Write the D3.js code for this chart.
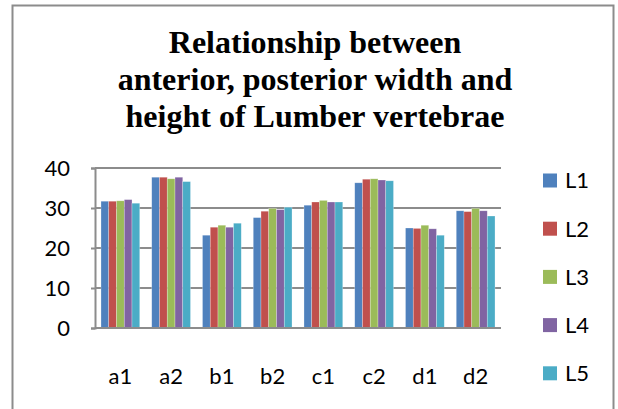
<!DOCTYPE html>
<html>
<head>
<meta charset="utf-8">
<script src="https://cdn.jsdelivr.net/npm/d3@7"></script>
<style>
  body { margin: 0; background: #fff; }
  svg { display: block; }
</style>
</head>
<body>
<svg id="chart"></svg>
<script>
const categories = ['a1', 'a2', 'b1', 'b2', 'c1', 'c2', 'd1', 'd2'];
const seriesNames = ['L1', 'L2', 'L3', 'L4', 'L5'];
const L1 = [31.7, 37.7, 23.2, 27.6, 30.7, 36.3, 25.0, 29.3];
const L2 = [31.7, 37.7, 25.2, 29.2, 31.5, 37.2, 24.9, 29.1];
const L3 = [31.8, 37.3, 25.7, 29.9, 31.9, 37.3, 25.7, 29.9];
const L4 = [32.1, 37.7, 25.2, 29.6, 31.5, 37.0, 24.8, 29.3];
const L5 = [31.2, 36.6, 26.2, 30.2, 31.5, 36.8, 23.2, 28.0];
const yTicks = [0, 10, 20, 30, 40];
const colors = ['#4f81bd', '#c0504d', '#9bbb59', '#8064a2', '#4bacc6'];
const titleLines = ['Relationship between', 'anterior, posterior width and', 'height of Lumber vertebrae'];

const values = [L1, L2, L3, L4, L5];
const width = 618;
const height = 409;
const plot = { left: 95, right: 501, top: 168, bottom: 328 };
const labelFont = 'Lato, "Open Sans", sans-serif';

const svg = d3.select('#chart')
    .attr('width', width)
    .attr('height', height);

// outer frame
svg.append('rect')
    .attr('x', 12.5)
    .attr('y', 5.5)
    .attr('width', 601)
    .attr('height', 420)
    .attr('fill', '#fff')
    .attr('stroke', '#8c8c8c')
    .attr('stroke-width', 2);

// title
svg.append('g')
    .selectAll('text')
    .data(titleLines)
    .enter()
    .append('text')
    .attr('x', 315)
    .attr('y', (d, i) => 53 + i * 37)
    .attr('text-anchor', 'middle')
    .style('font-family', '"Liberation Serif", "Times New Roman", serif')
    .style('font-weight', 'bold')
    .style('font-size', '32px')
    .text((d) => d);

const x0 = d3.scaleBand()
    .domain(categories)
    .range([plot.left, plot.right])
    .paddingInner(0.236)
    .paddingOuter(0.118);

const x1 = d3.scaleBand()
    .domain(seriesNames)
    .range([0, x0.bandwidth()]);

const y = d3.scaleLinear()
    .domain([0, 40])
    .range([plot.bottom, plot.top]);

// gridlines
svg.append('g')
    .selectAll('line')
    .data(yTicks.filter((t) => t > 0))
    .enter()
    .append('line')
    .attr('x1', plot.left)
    .attr('x2', plot.right)
    .attr('y1', (d) => y(d))
    .attr('y2', (d) => y(d))
    .attr('stroke', '#8c8c8c')
    .attr('stroke-width', 2);

// bars
const groups = svg.append('g')
    .selectAll('g')
    .data(categories)
    .enter()
    .append('g')
    .attr('transform', (d) => `translate(${x0(d)},0)`);

groups.selectAll('rect')
    .data((d, i) => seriesNames.map((s, k) => ({ series: s, k: k, value: values[k][i] })))
    .enter()
    .append('rect')
    .attr('x', (d) => x1(d.series))
    .attr('y', (d) => y(d.value))
    .attr('width', x1.bandwidth())
    .attr('height', (d) => y(0) - y(d.value))
    .attr('fill', (d) => colors[d.k])
    .attr('stroke', 'rgba(255,255,255,0.45)')
    .attr('stroke-width', 0.6);

// y axis
const yAxis = svg.append('g')
    .attr('transform', `translate(${plot.left},0)`)
    .call(d3.axisLeft(y).tickValues(yTicks).tickSize(4).tickPadding(21));
yAxis.select('.domain').attr('stroke', '#8c8c8c').attr('stroke-width', 2);
yAxis.selectAll('.tick line').attr('stroke', '#8c8c8c').attr('stroke-width', 2);
yAxis.selectAll('.tick text')
    .style('font-family', labelFont)
    .style('font-size', '22px')
    .attr('fill', '#000');

// x axis
const xAxis = svg.append('g')
    .attr('transform', `translate(0,${plot.bottom})`)
    .call(d3.axisBottom(x0).tickSize(0).tickPadding(40).tickSizeOuter(0));
xAxis.select('.domain')
    .attr('d', `M${plot.left},0H${plot.right}`)
    .attr('stroke', '#8c8c8c')
    .attr('stroke-width', 2);
xAxis.selectAll('.tick text')
    .style('font-family', labelFont)
    .style('font-size', '22px')
    .attr('fill', '#000');

// legend
const legend = svg.append('g')
    .selectAll('g')
    .data(seriesNames)
    .enter()
    .append('g')
    .attr('transform', (d, i) => `translate(543,${180.5 + i * 48.2})`);

legend.append('rect')
    .attr('x', 0)
    .attr('y', -7)
    .attr('width', 14)
    .attr('height', 14)
    .attr('fill', (d, i) => colors[i]);

legend.append('text')
    .attr('x', 22)
    .attr('y', 0)
    .attr('dy', '0.36em')
    .style('font-family', labelFont)
    .style('font-size', '22px')
    .text((d) => d);
</script>
</body>
</html>
